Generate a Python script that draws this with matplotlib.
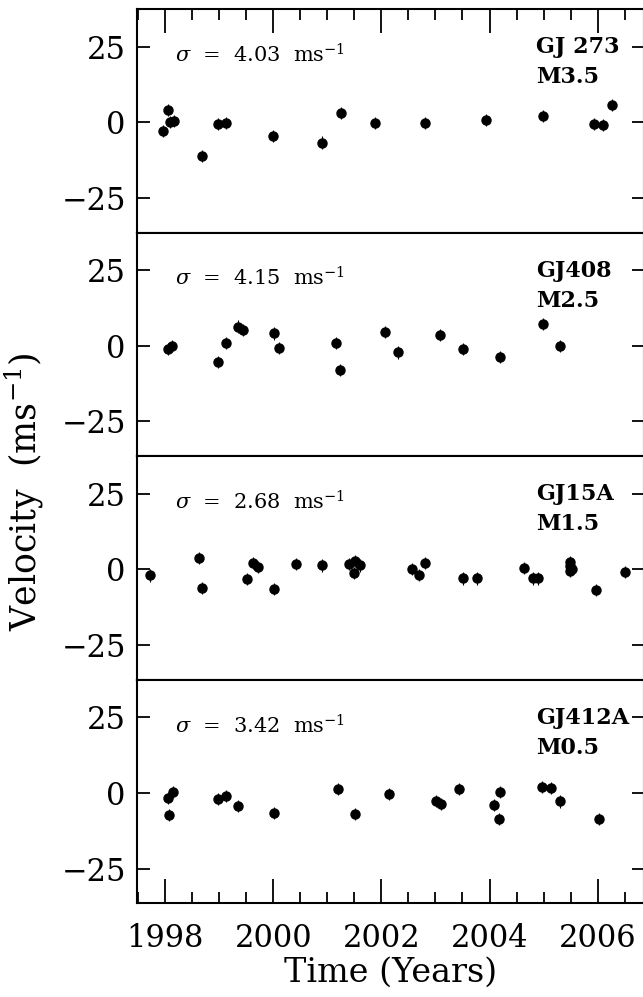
import matplotlib
matplotlib.use("Agg")
import matplotlib.pyplot as plt
from matplotlib.ticker import MultipleLocator

plt.rcParams["font.family"] = ["DejaVu Serif"]
plt.rcParams["mathtext.fontset"] = "dejavuserif"

# star names, spectral types and rms scatter, top to bottom
stars = ["GJ 273", "GJ408", "GJ15A", "GJ412A"]
types = ["M3.5", "M2.5", "M1.5", "M0.5"]
sigmas = ["4.03", "4.15", "2.68", "3.42"]

# epochs (years) and velocities (m/s)
t_gj273 = [1997.97, 1998.06, 1998.10, 1998.16, 1998.69, 1998.97, 1999.12, 2000.00,
           2000.91, 2001.25, 2001.88, 2002.80, 2003.94, 2004.98, 2005.93, 2006.09, 2006.27]
v_gj273 = [-2.8, 4.2, 0.0, 0.3, -11.1, -0.6, -0.2, -4.5,
           -6.7, 3.1, -0.2, -0.2, 0.9, 2.2, -0.6, -0.8, 5.7]

t_gj408 = [1998.06, 1998.12, 1998.97, 1999.13, 1999.35, 1999.44, 2000.01, 2000.10,
           2001.17, 2001.24, 2002.07, 2002.31, 2003.09, 2003.51, 2004.19, 2004.99, 2005.30]
v_gj408 = [-1.1, 0.0, -5.3, 0.8, 6.4, 5.3, 4.1, -0.8,
           0.8, -7.9, 4.5, -2.2, 3.6, -1.1, -3.7, 7.1, 0.0]

t_gj15a = [1997.72, 1998.62, 1998.69, 1999.51, 1999.63, 1999.71, 2000.01, 2000.42,
           2000.91, 2001.41, 2001.51, 2001.61, 2001.50, 2002.56, 2002.70, 2002.81,
           2003.51, 2003.77, 2004.63, 2004.80, 2004.90, 2005.48, 2005.48, 2005.49,
           2005.52, 2005.96, 2006.51]
v_gj15a = [-2.0, 3.7, -6.1, -3.3, 2.0, 0.8, -6.5, 1.7,
           1.3, 1.7, 2.8, 1.3, -1.3, 0.0, -1.7, 2.0,
           -3.0, -3.0, 0.6, -3.0, -3.0, 2.4, 1.0, -0.5,
           0.2, -6.9, -0.9]

t_gj412a = [1998.06, 1998.14, 1998.07, 1998.97, 1999.12, 1999.35, 2000.01, 2001.19,
            2001.52, 2002.14, 2003.01, 2003.11, 2003.43, 2004.09, 2004.19, 2004.17,
            2004.97, 2005.14, 2005.30, 2006.02]
v_gj412a = [-1.7, 0.4, -7.3, -2.0, -1.1, -4.3, -6.5, 1.3,
            -6.8, -0.3, -2.6, -3.7, 1.3, -3.9, 0.2, -8.7,
            1.9, 1.7, -2.8, -8.5]

times = [t_gj273, t_gj408, t_gj15a, t_gj412a]
vels = [v_gj273, v_gj408, v_gj15a, v_gj412a]
err = 2.0

fig, axes = plt.subplots(4, 1, sharex=True, figsize=(6.43, 9.97), dpi=100)
fig.subplots_adjust(left=0.213, right=1.001, top=0.991, bottom=0.094, hspace=0)

for i, ax in enumerate(axes):
    ax.errorbar(times[i], vels[i], yerr=err, fmt="o", color="black",
                ms=6.5, elinewidth=0.8, capsize=0)
    ax.set_xlim(1997.48, 2006.85)
    ax.set_ylim(-36.5, 37.5)
    ax.yaxis.set_major_locator(MultipleLocator(25))
    ax.xaxis.set_major_locator(MultipleLocator(2))
    ax.xaxis.set_minor_locator(MultipleLocator(0.5))
    for s in ax.spines.values():
        s.set_linewidth(1.5)
    ax.tick_params(axis="y", which="major", direction="in", length=9, width=1.3,
                   left=True, right=True, labelsize=22, pad=8)
    ax.tick_params(axis="x", which="both", direction="in", width=1.3,
                   top=(i == 0), bottom=(i == 3), labelsize=22, pad=14)
    ax.tick_params(axis="x", which="major", length=17)
    ax.tick_params(axis="x", which="minor", length=8)
    ax.text(0.075, 0.795, r"$\sigma$  =  " + sigmas[i] + r"  ms$^{-1}$",
            transform=ax.transAxes, fontsize=15, va="center", ha="left")
    ax.text(0.788, 0.83, stars[i], transform=ax.transAxes, fontsize=16,
            va="center", ha="left", fontweight="bold")
    ax.text(0.788, 0.695, types[i], transform=ax.transAxes, fontsize=16,
            va="center", ha="left", fontweight="bold")

axes[3].set_xlabel("Time (Years)", fontsize=24, labelpad=2)
fig.text(0.038, 0.507, r"Velocity  (ms$^{-1}$)", rotation=90, fontsize=25,
         ha="center", va="center")

fig.savefig("out.png", dpi=100)
